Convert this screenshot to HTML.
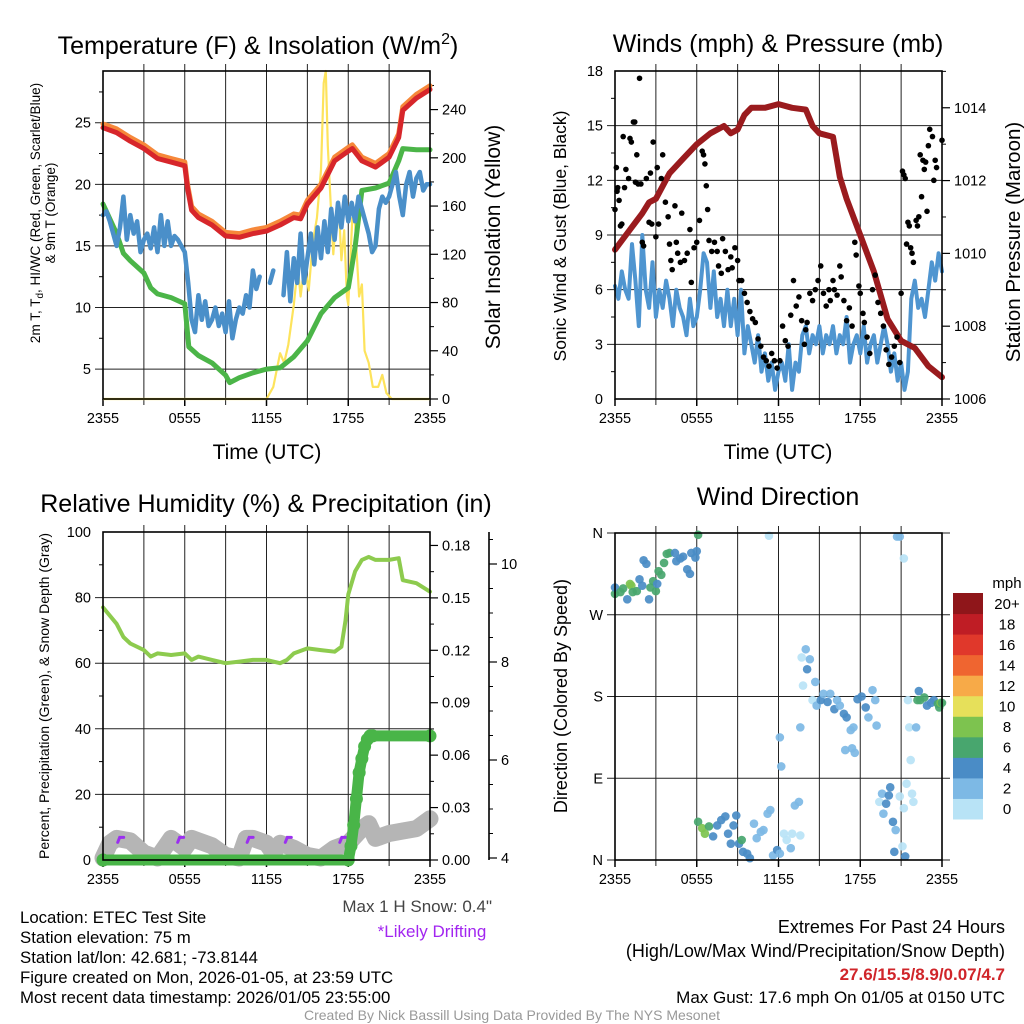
<!DOCTYPE html>
<html><head><meta charset="utf-8"><style>
html,body{margin:0;padding:0;background:#fff;}
svg{display:block;font-family:"Liberation Sans",Arial,sans-serif;}
</style></head><body>
<svg id="chart" width="1024" height="1024" viewBox="0 0 1024 1024" xmlns="http://www.w3.org/2000/svg"></svg>
<script>
// ---------- DATA ----------
const tempTimes=[0,1,2,3,4,5,6,6.2,6.5,7,8,9,10,11,12,13,14,14.5,15,16,17,18,18.3,19,20,21,21.7,22,23,24];
const tempRed=[24.6,24.2,23.5,22.9,22.1,21.8,21.5,19.7,17.9,17.3,16.7,15.8,15.7,16.0,16.2,16.7,17.3,17.2,18.4,19.7,21.9,22.7,22.9,21.9,21.4,22.2,23.8,26.0,27.0,27.7];
const temp9mOrange=[24.9,24.5,23.8,23.2,22.4,22.1,21.8,20.0,18.2,17.6,17.0,16.1,16.0,16.3,16.5,17.0,17.6,17.5,18.7,20.0,22.2,23.0,23.2,22.2,21.7,22.5,24.1,26.3,27.3,28.0];
const dewTimes=[0,1,1.5,2,3,3.5,4,5,6,6.3,7,8,9,9.3,10,11,12,13,14,15,16,17,18,18.5,19,20,21,21.7,22,23,24];
const dewGreen=[18.4,16.0,14.4,13.8,12.8,11.6,11.1,10.8,10.3,6.8,6.1,5.5,4.5,3.9,4.3,4.7,5.0,5.1,6.0,7.3,9.5,10.8,11.6,14.9,19.5,19.7,20.1,21.9,22.9,22.8,22.8];
const windChillBlue=[17.5,17.8,17.0,16.0,15.0,16.5,19.0,15.5,17.5,16.0,17.0,14.5,15.5,16.0,14.8,16.5,14.5,17.5,15.0,17.0,15.0,15.8,15.5,15.0,14.5,12.0,9.0,8.0,11.0,9.0,10.5,8.5,9.0,10.0,8.5,9.5,8.0,10.5,7.5,9.0,10.0,9.5,11.0,10.0,13.0,11.5,12.5,null,null,12.0,13.0,null,null,11.0,14.5,10.5,14.0,12.0,16.0,12.0,14.0,16.0,13.5,16.5,14.0,17.0,14.5,18.0,15.5,18.5,16.5,19.0,17.0,18.5,17.0,19.0,18.0,17.0,16.0,14.5,15.0,18.0,19.0,18.5,19.0,20.0,21.0,19.0,17.5,20.0,21.0,19.0,20.5,21.0,19.5,20.0,20.0];
const solarTimes=[0,12,12.5,13,13.3,13.6,14,14.3,14.5,14.8,15.1,15.4,15.7,16,16.2,16.35,16.5,16.7,16.9,17.1,17.3,17.5,17.7,17.9,18,18.3,18.5,18.8,19,19.2,19.5,19.8,20.2,20.5,20.8,21.2,24];
const solarYellow=[0,0,10,38,30,45,78,110,85,112,90,130,150,190,262,272,210,165,120,150,162,115,140,85,78,150,145,85,95,40,30,10,10,20,5,0,0];

const presTimes=[0,1,2,2.5,3,4,5,6,7,8,8.5,9,9.5,10,11,12,13,14,14.5,15,16,16.5,17,18,19,20,21,22,23,24];
const pressure=[1010.1,1010.6,1011.1,1011.4,1011.5,1012.2,1012.6,1013.0,1013.3,1013.5,1013.3,1013.4,1013.8,1014.0,1014.0,1014.1,1014.0,1013.95,1013.5,1013.3,1013.2,1012.1,1011.5,1010.5,1009.5,1008.2,1007.6,1007.4,1006.9,1006.6];
const sonicWind=[6.2,5.5,7.0,6.0,5.5,8.5,6.5,4.0,9.0,6.0,5.0,7.5,4.5,6.0,5.0,6.5,5.5,4.0,6.0,5.0,4.5,3.5,5.5,4.0,4.5,
6.0,8.0,7.5,5.0,7.0,4.5,5.5,4.0,6.0,4.0,5.5,3.5,6.0,2.5,4.0,3.0,2.0,3.5,1.5,2.5,1.0,2.0,0.5,1.5,
2.0,1.0,3.0,0.5,2.0,1.5,3.5,4.0,2.5,3.5,3.0,4.0,2.5,3.5,3.0,4.0,2.5,3.5,3.0,4.5,2.0,3.0,3.5,2.5,
4.0,2.0,3.0,3.5,2.0,3.0,4.0,3.0,1.5,2.5,1.0,2.0,0.5,1.5,5.5,6.5,5.0,5.5,4.5,6.0,7.5,6.5,8.0,7.0];
const gustTimes=[0,0.1,0.15,0.2,0.3,0.4,0.5,0.6,0.7,0.8,1.0,1.1,1.2,1.35,1.45,1.5,1.6,1.7,1.8,1.9,2.0,2.1,2.3,2.5,2.6,2.7,2.8,3.0,3.1,3.2,3.4,3.5,3.7,3.9,4.0,4.1,4.2,4.4,4.5,4.6,4.8,4.9,5.1,5.3,5.5,5.6,5.8,6.0,6.2,6.4,6.5,6.6,6.7,6.8,6.9,7.1,7.3,7.5,7.6,7.8,7.9,8.1,8.3,8.5,8.6,8.8,9.0,9.1,9.3,9.5,9.7,9.9,10.1,10.3,10.5,10.7,10.9,11.1,11.3,11.5,11.7,11.9,12.1,12.3,12.5,12.7,12.9,13.1,13.3,13.5,13.7,13.9,14.0,14.1,14.3,14.5,14.7,14.9,15.1,15.3,15.5,15.7,15.8,16.0,16.1,16.3,16.5,16.6,16.8,17.0,17.2,17.4,17.6,17.7,17.9,18.0,18.2,18.3,18.5,18.7,18.9,19.1,19.3,19.5,19.7,19.9,20.1,20.3,20.5,20.7,20.9,21.0,21.1,21.2,21.3,21.4,21.5,21.6,21.7,21.8,21.9,22.1,22.2,22.3,22.4,22.5,22.6,22.7,22.8,22.9,23.0,23.1,23.3,23.4,23.5,23.6,24.0];
const gustValues=[10.4,12.7,11.4,11.6,10.9,9.5,9.6,14.4,11.6,12.6,12.1,14.3,14.1,15.2,15.2,11.9,13.4,11.8,17.6,11.8,8.6,8.4,12.1,9.7,12.4,9.6,14.1,8.9,12.7,9.6,12.1,13.4,10.8,10.0,8.5,7.6,7.1,10.6,8.6,8.0,7.5,10.2,7.6,8.0,9.3,6.4,8.3,8.6,9.8,13.6,13.4,12.9,11.7,10.4,8.7,8.1,8.6,8.1,7.3,6.9,8.8,8.1,7.1,7.8,7.2,8.3,7.6,6.5,6.5,5.8,5.3,4.8,4.4,4.2,3.3,2.9,2.3,2.1,1.8,2.5,2.1,1.7,2.1,4.0,3.2,2.9,4.6,6.5,5.1,5.6,4.3,3.0,3.8,4.2,5.8,5.4,6.0,6.5,7.3,5.8,5.1,6.0,5.4,6.5,6.0,5.7,7.3,6.7,5.4,4.3,5.0,4.0,8.6,7.9,6.2,5.8,4.7,4.2,3.4,2.5,6.0,6.8,5.3,4.7,4.0,2.7,1.9,2.3,2.9,3.4,2.0,5.8,12.5,12.3,12.1,8.5,9.7,9.5,8.3,8.0,7.5,9.8,9.5,10.0,13.4,11.1,13.1,12.6,13.0,10.3,13.9,14.8,14.4,12.0,13.1,12.7,14.2];

const rhTimes=[0,1,1.5,2,3,3.5,4,5,6,6.5,7,8,9,10,11,12,13,13.5,14,15,16,17,17.5,17.8,18,18.5,19,19.5,20,21,21.7,22,23,24];
const relHumidity=[77,72,68,66,64,62,63,62.5,63,61,62,61,60,60.5,61,61,60,61,63,64.5,64,63.5,65,73,81,88,91.5,92.4,91.5,91.5,92,85.3,84.4,81.8];
const precipTimes=[0,18,18.2,18.4,18.6,18.8,19,19.2,19.4,19.6,19.8,24];
const precipValues=[0,0,0.008,0.02,0.035,0.05,0.058,0.065,0.069,0.071,0.071,0.071];
const snowTimes=[0,0.5,1,2,3,4,5,6,6.5,7,8,9,10,10.5,11,12,12.5,13,14,15,16,17,18,19,19.5,20,21,22,23,24];
const snowDepth=[4.0,4.3,4.4,4.35,4.1,4.0,4.4,4.2,4.4,4.35,4.25,4.05,4.0,4.4,4.4,4.3,4.1,4.3,4.2,4.05,4.0,4.2,4.3,4.6,4.7,4.4,4.5,4.55,4.6,4.8];
const driftTimes=[1.3,5.7,10.8,13.6,17.6];

const dirTimes=[0,0,0.4,0.6,0.9,1.1,1.2,1.3,1.6,1.8,2.0,2.1,2.3,2.5,2.6,2.8,3.0,3.1,3.2,3.4,3.6,3.8,4.0,4.4,4.5,4.8,5.0,5.3,5.5,5.6,5.9,6.0,6.1,
6.1,6.4,6.6,6.9,7.2,7.5,7.8,8.1,8.3,8.5,8.7,8.9,9.1,9.3,9.4,9.7,9.9,10.2,10.4,10.7,10.9,11.2,11.4,11.6,11.9,12.1,12.4,12.6,12.9,13.0,13.2,13.5,13.6,
11.3,12.1,12.2,13.6,13.8,14.0,13.7,14.1,14.3,14.7,14.5,14.8,15.1,15.3,15.6,15.8,16.1,16.3,16.5,16.8,17.0,17.3,17.5,16.9,17.4,17.6,17.8,18.1,18.4,18.6,18.9,19.1,19.2,
19.4,19.6,19.9,20.1,20.2,19.7,20.4,20.6,20.5,20.7,20.9,21.2,20.9,21.2,21.4,21.8,21.9,21.1,21.3,21.6,22.1,21.7,21.5,
22.3,22.4,22.7,22.9,23.2,23.4,23.7,23.8,23.9,24.0,22.2];
const dirDegrees=[293,300,295,299,287,304,302,295,296,309,302,330,326,287,300,307,296,304,318,314,327,337,338,338,329,332,334,320,315,338,333,340,358,
42,35,29,37,26,38,44,48,29,18,38,49,18,22,9,7,2,40,24,31,33,51,55,5,11,7,29,22,13,29,60,64,27,
357,135,103,146,192,232,223,210,221,196,176,170,176,183,174,183,166,176,170,161,157,143,146,121,123,118,177,180,168,157,187,176,148,
64,73,62,71,80,51,42,33,9,356,356,332,70,57,84,73,64,15,4,146,146,110,176,
186,176,179,170,173,176,172,168,173,173,176];
const dirSpeeds=[7,5,7,7,5,9,9,7,7,5,5,5,5,5,7,7,7,5,7,7,7,7,7,5,5,5,5,5,5,5,5,5,7,
7,9,9,7,5,5,5,5,5,5,5,5,5,7,5,5,5,3,3,3,3,3,3,3,5,3,1,1,3,1,3,3,1,
1,3,3,3,1,3,1,5,3,3,1,3,5,3,5,3,5,3,3,5,5,3,3,3,3,3,5,5,5,3,3,3,3,
1,3,5,5,5,3,5,3,5,3,3,1,1,1,1,1,1,1,5,1,3,1,1,
5,7,7,5,5,5,7,7,9,7,7];

const xTickLabels=["2355","0555","1155","1755","2355"];
const speedBins=["0","2","4","6","8","10","12","14","16","18","20+"];
const speedColors=["#b8e3f6","#7db9e5","#4a8cc6","#48a66e","#7dc34f","#e6e05a","#f7aa48","#ef6530","#e0382b","#bf1d25","#8f161a"];

// ---------- HELPERS ----------
const NS='http://www.w3.org/2000/svg';
const svg=document.getElementById('chart');
function el(tag,attrs,parent){const e=document.createElementNS(NS,tag);for(const k in attrs)e.setAttribute(k,attrs[k]);(parent||svg).appendChild(e);return e;}
function txt(s,x,y,size,anchor,parent,extra){const e=el('text',Object.assign({x:x,y:y,'font-size':size,'text-anchor':anchor||'middle',fill:'#000'},extra||{}),parent);e.textContent=s;return e;}
const P1={x0:103,x1:430,y0:71,y1:399},P2={x0:615,x1:942,y0:71,y1:399},P3={x0:103,x1:430,y0:532,y1:860},P4={x0:615,x1:942,y0:533,y1:860};
function xs(p,h){return p.x0+h/24*(p.x1-p.x0);}
function lin(v0,v1,p){return v=>p.y1-(v-v0)/(v1-v0)*(p.y1-p.y0);}
function pathOf(times,vals,xf,yf){let d='',pen=false;for(let i=0;i<vals.length;i++){if(vals[i]===null){pen=false;continue;}d+=(pen?'L':'M')+xf(times[i]).toFixed(1)+','+yf(vals[i]).toFixed(1);pen=true;}return d;}

function frame(p,name){
  const g=el('g',{});
  
  
  for(let h=3;h<24;h+=3){const l=el('line',{x1:xs(p,h),x2:xs(p,h),y1:p.y0-7,y2:p.y1+6,stroke:'#222','stroke-width':1},g);
    
    }
  for(let i=0;i<=4;i++){const l=el('line',{x1:xs(p,i*6),x2:xs(p,i*6),y1:p.y1,y2:p.y1+7,stroke:'#000','stroke-width':1.5},g);
    
    
    const t=txt(xTickLabels[i],xs(p,i*6),p.y1+24,14.5,'middle',g);
    
    }
  return g;
}
function box(p,name){const r=el('rect',{x:p.x0,y:p.y0,width:p.x1-p.x0,height:p.y1-p.y0,fill:'none',stroke:'#000','stroke-width':1.6});
  
  }
function hgrid(p,yf,vals,extR){for(const v of vals){const l=el('line',{x1:p.x0-8,x2:p.x1+(extR||0),y1:yf(v),y2:yf(v),stroke:'#222','stroke-width':1});
  
  }}
function leftLabels(p,yf,vals,labels,minors){
  vals.forEach((v,i)=>{const t=txt(labels[i],p.x0-12,yf(v)+5,14.5,'end');
    
    });
  (minors||[]).forEach(v=>{const l=el('line',{x1:p.x0-4,x2:p.x0,y1:yf(v),y2:yf(v),stroke:'#000','stroke-width':1});
    
    });
}
function rightAxis(x,yf,vals,labels,minors,name){
  vals.forEach((v,i)=>{const l=el('line',{x1:x,x2:x+8,y1:yf(v),y2:yf(v),stroke:'#000','stroke-width':1.2});
    
    
    const t=txt(labels[i],x+12,yf(v)+5,14.5,'start');
    
    });
  minors.forEach(v=>{const l=el('line',{x1:x,x2:x+4,y1:yf(v),y2:yf(v),stroke:'#000','stroke-width':1});
    
    });
}
function rotText(s,x,y,size,name){const t=txt(s,x,y,size,'middle',null,{transform:'rotate(-90 '+x+' '+y+')'});
  
  return t;}

// ---------- PANEL 1 ----------
{
const p=P1, yL=lin(2.57,29.2,p), yR=lin(0,272,p);
frame(p,'temperature');
hgrid(p,yL,[5,10,15,20,25]);
leftLabels(p,yL,[5,10,15,20,25],['5','10','15','20','25'],[7.5,12.5,17.5,22.5,27.5]);
rightAxis(p.x1,yR,[0,40,80,120,160,200,240],['0','40','80','120','160','200','240'],[20,60,100,140,180,220,260],'insolation-axis');
const sol=el('path',{d:pathOf(solarTimes,solarYellow,h=>xs(p,h),yR),fill:'none',stroke:'#fde35c','stroke-width':2.2,'stroke-linejoin':'round'});


const dew=el('path',{d:pathOf(dewTimes,dewGreen,h=>xs(p,h),yL),fill:'none',stroke:'#4bb548','stroke-width':5,'stroke-linejoin':'round','stroke-linecap':'round'});


const wc=el('path',{d:pathOf(windChillBlue.map((v,i)=>i*0.25),windChillBlue,h=>xs(p,h),yL),fill:'none',stroke:'#4a8fc9','stroke-width':4.5,'stroke-linejoin':'round','stroke-linecap':'round'});


const or=el('path',{d:pathOf(tempTimes,temp9mOrange,h=>xs(p,h),yL),fill:'none',stroke:'#f6883a','stroke-width':5,'stroke-linejoin':'round','stroke-linecap':'round'});


const rd=el('path',{d:pathOf(tempTimes,tempRed,h=>xs(p,h),yL),fill:'none',stroke:'#d7262b','stroke-width':5,'stroke-linejoin':'round','stroke-linecap':'round'});


box(p,'temperature');
const t=txt('Temperature (F) & Insolation (W/m',258,54,25,'middle');
const sup=el('tspan',{'font-size':16,dy:-10},t);sup.textContent='2';
const cl=el('tspan',{dy:10},t);cl.textContent=')';


const xl=txt('Time (UTC)',267,459,21,'middle');


const l1=txt('',40,213,13.5,'middle',null,{transform:'rotate(-90 40 213)'});
l1.innerHTML='2m T, T<tspan font-size="10" dy="3">d</tspan><tspan dy="-3">, HI/WC (Red, Green, Scarlet/Blue)</tspan>';


rotText('& 9m T (Orange)',55,213,13.5,'temperature-y-axis-title-line2');
rotText('Solar Insolation (Yellow)',500,237,21,'insolation-y-axis-title');
}

// ---------- PANEL 2 ----------
{
const p=P2, yL=lin(0,18,p), yR=lin(1006,1015.01,p);
frame(p,'winds');
hgrid(p,yL,[3,6,9,12,15]);
leftLabels(p,yL,[0,3,6,9,12,15,18],['0','3','6','9','12','15','18'],[1.5,4.5,7.5,10.5,13.5,16.5]);
rightAxis(p.x1,yR,[1006,1008,1010,1012,1014],['1006','1008','1010','1012','1014'],[1007,1009,1011,1013,1015],'pressure-axis');
const sw=el('path',{d:pathOf(sonicWind.map((v,i)=>i*0.25),sonicWind,h=>xs(p,h),yL),fill:'none',stroke:'#4f95d0','stroke-width':4,'stroke-linejoin':'round','stroke-linecap':'round'});


const pr=el('path',{d:pathOf(presTimes,pressure,h=>xs(p,h),yR),fill:'none',stroke:'#9a1b1e','stroke-width':6,'stroke-linejoin':'round','stroke-linecap':'round'});


gustValues.forEach((v,i)=>{const c=el('circle',{cx:xs(p,gustTimes[i]),cy:yL(v),r:2.8,fill:'#000'});
  
  });
box(p,'winds');
const t=txt('Winds (mph) & Pressure (mb)',778,52,25,'middle');


const xl=txt('Time (UTC)',778,459,21,'middle');


rotText('Sonic Wind & Gust (Blue, Black)',566,236,17.5,'wind-y-axis-title');
rotText('Station Pressure (Maroon)',1020,242,20.5,'pressure-y-axis-title');
}

// ---------- PANEL 3 ----------
{
const p=P3, yL=lin(0,100,p), yR=lin(0,0.1877,p), yS=v=>858-(v-4)*49;
frame(p,'humidity');
hgrid(p,yL,[20,40,60,80]);
leftLabels(p,yL,[0,20,40,60,80,100],['0','20','40','60','80','100'],[10,30,50,70,90]);
rightAxis(p.x1,yR,[0,0.03,0.06,0.09,0.12,0.15,0.18],['0.00','0.03','0.06','0.09','0.12','0.15','0.18'],[0.015,0.045,0.075,0.105,0.135,0.165],'precip-axis');
const ax=el('line',{x1:489,x2:489,y1:p.y0,y2:p.y1,stroke:'#000','stroke-width':1.6});


rightAxis(489,yS,[4,6,8,10],['4','6','8','10'],[4.5,5,5.5,6.5,7,7.5,8.5,9,9.5,10.5],'snow-axis');
const sn=el('path',{d:pathOf(snowTimes,snowDepth,h=>xs(p,h),yS),fill:'none',stroke:'#b5b5b5','stroke-width':17,'stroke-linejoin':'round','stroke-linecap':'round'});


driftTimes.forEach(h=>{const m=el('path',{d:'M'+(xs(p,h)-3)+','+(yS(4.38)+3)+'l2,-5l4,0',fill:'none',stroke:'#9b2ff0','stroke-width':3,'stroke-linecap':'round'});
  
  });
const rh=el('path',{d:pathOf(rhTimes,relHumidity,h=>xs(p,h),yL),fill:'none',stroke:'#8dcb4e','stroke-width':4,'stroke-linejoin':'round','stroke-linecap':'round'});


const pc=el('path',{d:pathOf(precipTimes,precipValues,h=>xs(p,h),yR),fill:'none',stroke:'#49b548','stroke-width':11,'stroke-linejoin':'round','stroke-linecap':'round'});


precipValues.forEach((v,i)=>{const c=el('circle',{cx:xs(p,precipTimes[i]),cy:yR(v),r:6.5,fill:'#49b548'});
  
  });
box(p,'humidity');
const t=txt('Relative Humidity (%) & Precipitation (in)',266,512,25,'middle');


rotText('Percent, Precipitation (Green), & Snow Depth (Gray)',49,696,14,'humidity-y-axis-title');
}

// ---------- PANEL 4 ----------
{
const p=P4, yD=lin(0,360,p);
frame(p,'direction');
hgrid(p,yD,[90,180,270],8);
[0,360].forEach(v=>{const l=el('line',{x1:p.x0-8,x2:p.x1+8,y1:yD(v),y2:yD(v),stroke:'#222','stroke-width':1});
  
  });
leftLabels(p,yD,[0,90,180,270,360],['N','E','S','W','N'],[]);
dirDegrees.forEach((d,i)=>{const c=el('circle',{cx:xs(p,dirTimes[i]),cy:yD(d),r:4.3,fill:speedColors[Math.min(10,Math.floor(dirSpeeds[i]/2))],opacity:0.92});
  
  });
box(p,'direction');
const t=txt('Wind Direction',778,505,25,'middle');


rotText('Direction (Colored By Speed)',567,696,18,'direction-y-axis-title');
const mph=txt('mph',1007,588,15,'middle');


for(let i=0;i<11;i++){const yy=819-(i+1)*(226/11);
  const r=el('rect',{x:953,y:yy,width:30,height:226/11+0.5,fill:speedColors[i]});
  
  
  const l=txt(speedBins[i],1007,yy+226/22+5.5,15,'middle');
  
  }
}

// ---------- TEXT ----------
{
const info=['Location: ETEC Test Site','Station elevation: 75 m','Station lat/lon: 42.681; -73.8144','Figure created on Mon, 2026-01-05, at 23:59 UTC','Most recent data timestamp: 2026/01/05 23:55:00'];
info.forEach((s,i)=>{const t=txt(s,20,923+i*20,16.8,'start');
  
  });
const ms=txt('Max 1 H Snow: 0.4"',492,912,17,'end',null,{fill:'#444'});


const dr=txt('*Likely Drifting',432,937,17,'middle',null,{fill:'#a226f0'});


const e1=txt('Extremes For Past 24 Hours',1005,933,18,'end');


const e2=txt('(High/Low/Max Wind/Precipitation/Snow Depth)',1005,957,18,'end');


const e3=txt('27.6/15.5/8.9/0.07/4.7',1005,980,17,'end',null,{fill:'#d0252a','font-weight':'bold'});


const e4=txt('Max Gust: 17.6 mph On 01/05 at 0150 UTC',1005,1003,17,'end');


const f=txt('Created By Nick Bassill Using Data Provided By The NYS Mesonet',512,1020,14,'middle',null,{fill:'#999'});


}
</script>
</body></html>
